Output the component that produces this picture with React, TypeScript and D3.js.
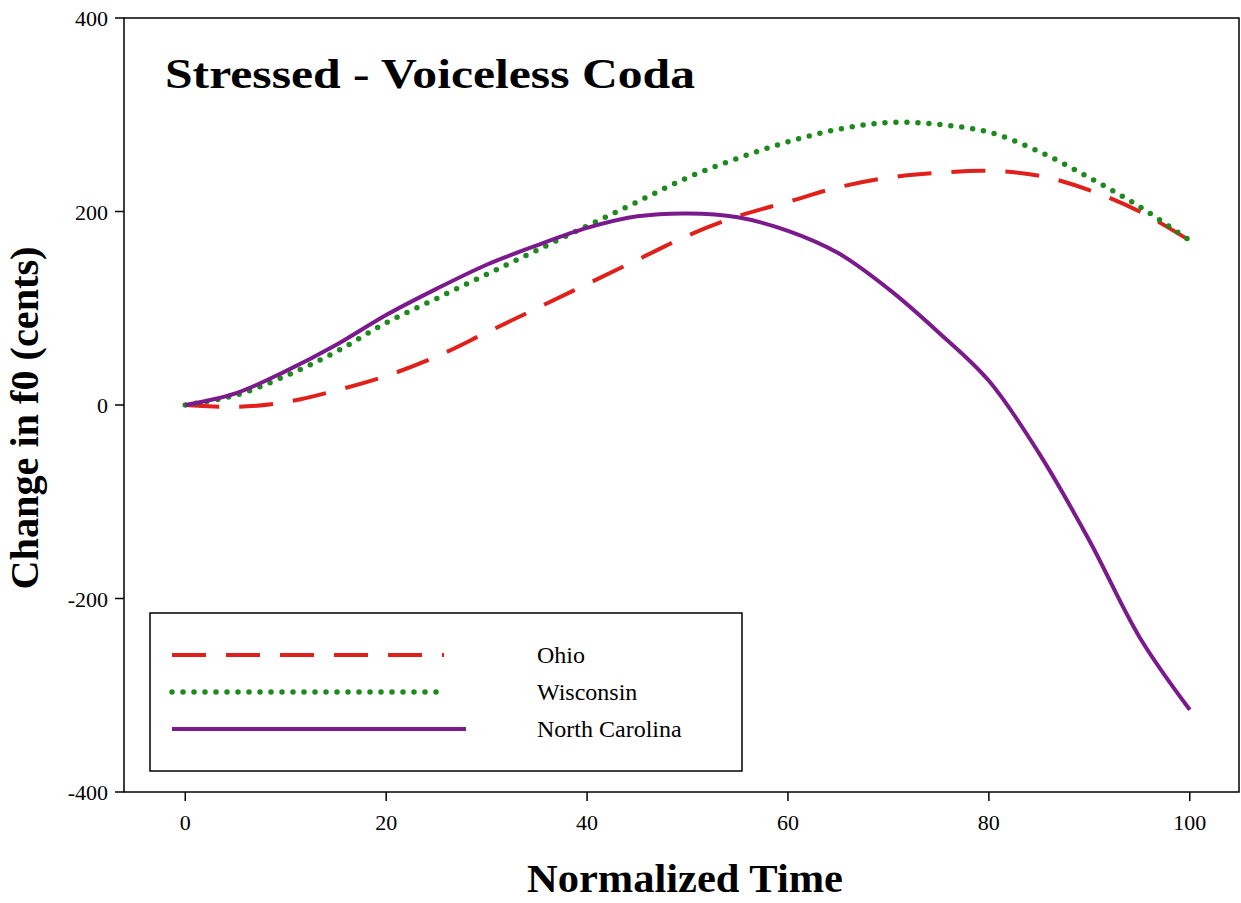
import React from "react";
import * as d3 from "d3";

const times = [0, 5, 10, 15, 20, 25, 30, 35, 40, 45, 50, 55, 60, 65, 70, 75, 80, 85, 90, 95, 100];
const ohio = [0, -2, 3, 15, 30, 50, 75, 100, 125, 150, 175, 195, 210, 225, 235, 240, 242, 237, 222, 200, 170];
const wisconsin = [0, 10, 30, 55, 85, 110, 135, 160, 185, 210, 235, 255, 272, 285, 292, 290, 282, 262, 235, 205, 170];
const northCarolina = [0, 12, 35, 62, 93, 120, 145, 165, 183, 195, 198, 194, 180, 157, 120, 75, 25, -50, -140, -240, -315];
const xTicks = [0, 20, 40, 60, 80, 100];
const yTicks = [-400, -200, 0, 200, 400];

const series = [
  { name: "Ohio", values: ohio, color: "#e0201b", dash: "34,20", width: 4 },
  { name: "Wisconsin", values: wisconsin, color: "#1e8a1e", dash: "0,11", width: 5.5, cap: "round" },
  { name: "North Carolina", values: northCarolina, color: "#7a1a8c", dash: "", width: 4 },
];

const App: React.FC = () => {
  const left = 124, right = 1240, top = 18, bottom = 792;
  const x = d3.scaleLinear().domain([-6.1, 105]).range([left, right]);
  const y = d3.scaleLinear().domain([-400, 400]).range([bottom, top]);
  const line = (vals: number[]) =>
    d3.line<number>().x((_, i) => x(times[i])).y((d) => y(d)).curve(d3.curveCatmullRom)(vals) || "";
  const font = "'Liberation Serif', 'Times New Roman', serif";

  return (
    <svg width={1241} height={903} style={{ position: "absolute", left: 0, top: 0 }} fontFamily={font}>
      <rect x={left} y={top} width={right - left - 1} height={bottom - top} fill="none" stroke="#000" strokeWidth={1.5} />
      {xTicks.map((t) => (
        <g key={t}>
          <line x1={x(t)} x2={x(t)} y1={bottom} y2={bottom + 9} stroke="#000" strokeWidth={1.5} />
          <text x={x(t)} y={bottom + 38} textAnchor="middle" fontSize={22}>{t}</text>
        </g>
      ))}
      {yTicks.map((t) => (
        <g key={t}>
          <line x1={left - 9} x2={left} y1={y(t)} y2={y(t)} stroke="#000" strokeWidth={1.5} />
          <text x={left - 16} y={y(t) + 8} textAnchor="end" fontSize={22}>{t}</text>
        </g>
      ))}
      <text x={685} y={892} textAnchor="middle" fontSize={40} fontWeight="bold" textLength={316} lengthAdjust="spacingAndGlyphs">Normalized Time</text>
      <text transform={`translate(38,418) rotate(-90)`} textAnchor="middle" fontSize={40} fontWeight="bold" textLength={343} lengthAdjust="spacingAndGlyphs">Change in f0 (cents)</text>
      <text x={165} y={88} fontSize={42} fontWeight="bold" textLength={530} lengthAdjust="spacingAndGlyphs">Stressed - Voiceless Coda</text>
      {series.map((s) => (
        <path key={s.name} d={line(s.values)} fill="none" stroke={s.color} strokeWidth={s.width}
          strokeDasharray={s.dash || undefined} strokeLinecap={(s as any).cap || "butt"} />
      ))}
      <rect x={150} y={613} width={592} height={158} fill="#fff" stroke="#000" strokeWidth={1.5} />
      {series.map((s, i) => (
        <g key={s.name}>
          <line x1={172} x2={i === 2 ? 466 : 444} y1={655 + i * 37} y2={655 + i * 37} stroke={s.color}
            strokeWidth={s.width} strokeDasharray={s.dash || undefined} strokeLinecap={(s as any).cap || "butt"} />
          <text x={537} y={663 + i * 37} fontSize={24}>{s.name}</text>
        </g>
      ))}
    </svg>
  );
};

export default App;
